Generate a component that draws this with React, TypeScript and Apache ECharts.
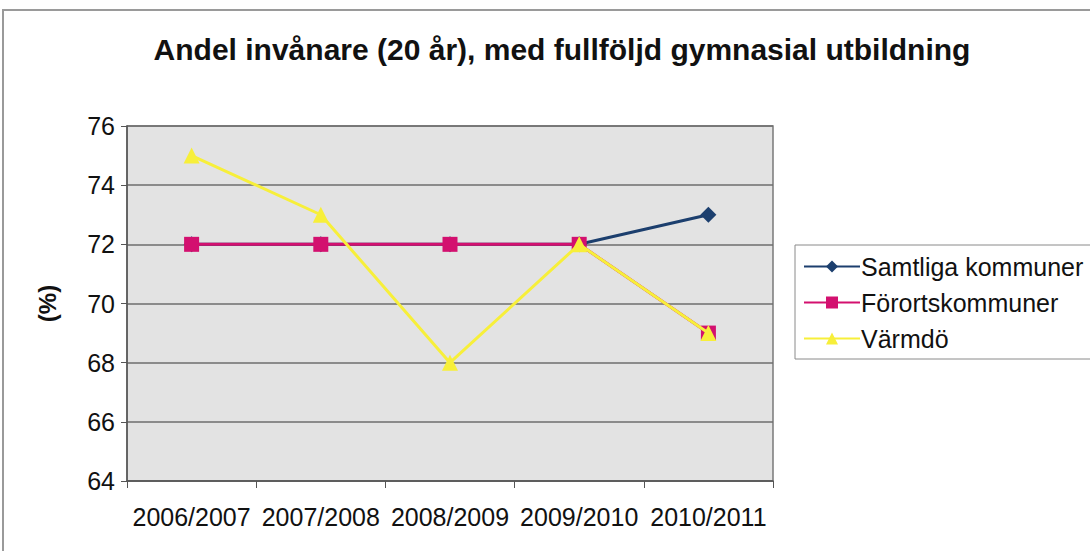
import React, { useEffect, useRef } from "react";
import * as echarts from "echarts";

const categories = ["2006/2007", "2007/2008", "2008/2009", "2009/2010", "2010/2011"];
const samtliga = [72, 72, 72, 72, 73];
const forort = [72, 72, 72, 72, 69];
const varmdo = [75, 73, 68, 72, 69];
const titleText = "Andel invånare (20 år), med fullföljd gymnasial utbildning";
const seriesNames = ["Samtliga kommuner", "Förortskommuner", "Värmdö"];

export default function App() {
  const ref = useRef<HTMLDivElement>(null);
  useEffect(() => {
    document.body.style.margin = "0";
    const chart = echarts.init(ref.current!, null, { renderer: "svg" });
    const font = "'Liberation Sans', Arial, sans-serif";
    chart.setOption({
      animation: false,
      backgroundColor: "#ffffff",
      textStyle: { fontFamily: font },
      title: {
        text: titleText,
        left: 557,
        top: 29,
        textAlign: "center",
        textStyle: { fontFamily: font, fontSize: 30, fontWeight: "bold", color: "#111" },
      },
      graphic: [
        {
          type: "rect",
          shape: { x: 3, y: 10, width: 1100, height: 560 },
          style: { fill: "none", stroke: "#9a9a9a", lineWidth: 2 },
          silent: true,
        },
      ],
      legend: {
        orient: "vertical",
        left: 795,
        top: 245,
        padding: [9, 10, 8, 8],
        itemGap: 11,
        itemWidth: 56,
        itemHeight: 15,
        borderColor: "#8a8a8a",
        borderWidth: 1,
        backgroundColor: "#ffffff",
        textStyle: { fontFamily: font, fontSize: 25, color: "#111", padding: [0, 0, 0, -4] },
        data: seriesNames,
      },
      grid: {
        left: 127,
        top: 126,
        width: 646,
        height: 355,
        show: true,
        backgroundColor: "#e3e3e3",
        borderColor: "#7a7a7a",
        borderWidth: 1.5,
      },
      xAxis: {
        type: "category",
        data: categories,
        boundaryGap: true,
        axisLine: { lineStyle: { color: "#555", width: 1.5 } },
        axisTick: { show: true, interval: 0, length: 7, lineStyle: { color: "#555" } },
        axisLabel: { interval: 0, fontFamily: font, fontSize: 25, color: "#111", margin: 23 },
        splitLine: { show: false },
      },
      yAxis: {
        type: "value",
        min: 64,
        max: 76,
        interval: 2,
        name: "(%)",
        nameLocation: "middle",
        nameGap: 68,
        nameRotate: 90,
        nameTextStyle: { fontFamily: font, fontSize: 24, fontWeight: "bold", color: "#111" },
        axisLine: { show: true, lineStyle: { color: "#555", width: 1.5 } },
        axisTick: { show: true, length: 6, lineStyle: { color: "#555" } },
        axisLabel: { fontFamily: font, fontSize: 25, color: "#111", margin: 12 },
        splitLine: { show: true, lineStyle: { color: "#6e6e6e", width: 1.5 } },
      },
      series: [
        {
          name: seriesNames[0],
          type: "line",
          data: samtliga,
          symbol: "diamond",
          symbolSize: 16,
          lineStyle: { color: "#1c3f6e", width: 3 },
          itemStyle: { color: "#1c3f6e" },
          z: 2,
        },
        {
          name: seriesNames[1],
          type: "line",
          data: forort,
          symbol: "rect",
          symbolSize: 15,
          lineStyle: { color: "#d3106f", width: 3 },
          itemStyle: { color: "#d3106f" },
          z: 3,
        },
        {
          name: seriesNames[2],
          type: "line",
          data: varmdo,
          symbol: "triangle",
          symbolSize: 16,
          lineStyle: { color: "#f7ef3a", width: 3 },
          itemStyle: { color: "#f7ef3a" },
          z: 4,
        },
      ],
    });
    return () => chart.dispose();
  }, []);
  return <div ref={ref} style={{ width: 1090, height: 551 }} />;
}
